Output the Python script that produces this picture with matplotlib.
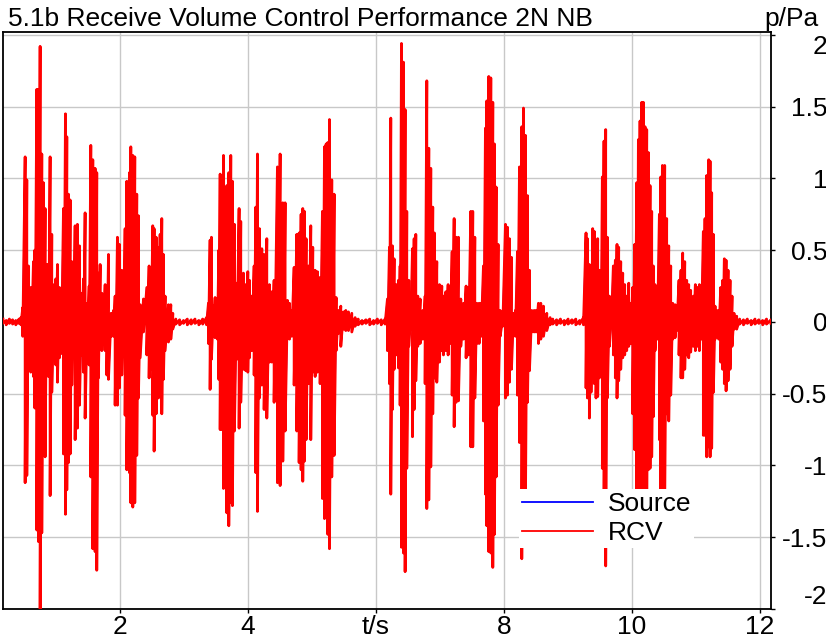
import numpy as np
import matplotlib
matplotlib.use("Agg")
import matplotlib.pyplot as plt

plt.rcParams['font.family'] = ['Liberation Sans', 'DejaVu Sans']

# peak envelope of the recorded speech (t in s, upper / lower peak in Pa)
burst1_t = [0.479, 0.516, 0.542, 0.568, 0.604, 0.646, 0.667, 0.698, 0.724, 0.750,
            0.776, 0.802, 0.828, 0.854, 0.880, 0.906, 0.932, 0.969, 0.995, 1.021,
            1.052, 1.083, 1.115, 1.146, 1.167, 1.193, 1.219, 1.245, 1.271, 1.297,
            1.333, 1.365, 1.401, 1.427, 1.453, 1.490, 1.516, 1.542, 1.573, 1.609,
            1.635, 1.661, 1.688, 1.714, 1.740, 1.766, 1.792, 1.818, 1.859, 1.896,
            1.922, 1.958, 1.990, 2.026, 2.052, 2.078, 2.104, 2.146, 2.167, 2.198,
            2.229, 2.260, 2.286, 2.313, 2.365, 2.417, 2.453, 2.479, 2.510, 2.531,
            2.563, 2.599, 2.625, 2.651, 2.677, 2.703, 2.755, 2.792, 2.823]
burst1_hi = [0.10, 1.15, 0.99, 0.39, 0.24, 0.42, 0.50, 1.62, 1.62, 1.92,
             1.17, 0.97, 0.79, 0.40, 0.40, 1.15, 0.61, 0.26, 0.30, 0.40,
             0.24, 0.22, 0.79, 1.45, 1.29, 0.89, 0.85, 0.42, 0.39, 0.67,
             0.68, 0.53, 0.20, 0.30, 0.76, 0.13, 0.25, 1.23, 1.13, 1.07,
             1.04, 0.34, 0.40, 0.20, 0.06, 0.26, 0.24, 0.47, 0.06, 0.08,
             0.18, 0.59, 0.54, 0.36, 0.17, 0.65, 0.98, 1.04, 1.22, 1.16,
             1.15, 0.89, 0.74, 0.12, 0.16, 0.24, 0.39, 0.36, 0.67, 0.65,
             0.59, 0.52, 0.61, 0.72, 0.47, 0.18, 0.12, 0.12, 0.06]
burst1_lo = [-0.10, -1.12, -1.07, -0.28, -0.35, -0.38, -0.60, -1.45, -1.53, -2.10,
             -1.47, -0.87, -0.94, -0.21, -0.38, -1.21, -0.49, -0.23, -0.30, -0.42,
             -0.25, -0.22, -0.92, -1.34, -1.17, -0.98, -0.92, -0.44, -0.20, -0.82,
             -0.74, -0.58, -0.23, -0.35, -0.67, -0.10, -0.30, -1.08, -1.58, -1.60,
             -1.73, -0.39, -0.17, -0.20, -0.07, -0.20, -0.37, -0.40, -0.10, -0.10,
             -0.58, -0.58, -0.46, -0.37, -0.23, -0.65, -1.03, -1.05, -1.26, -1.29,
             -1.26, -0.93, -0.53, -0.25, -0.07, -0.23, -0.39, -0.33, -0.65, -0.90,
             -0.64, -0.53, -0.48, -0.64, -0.40, -0.20, -0.14, -0.12, -0.05]

burst2_t = [3.380, 3.406, 3.427, 3.458, 3.484, 3.521, 3.542, 3.563, 3.589, 3.615,
            3.641, 3.667, 3.698, 3.729, 3.755, 3.786, 3.823, 3.859, 3.885, 3.927,
            3.964, 3.995, 4.021, 4.057, 4.094, 4.120, 4.146, 4.177, 4.214, 4.250,
            4.292, 4.333, 4.370, 4.406, 4.458, 4.500, 4.542, 4.578, 4.615, 4.646,
            4.682, 4.719, 4.760, 4.797, 4.828, 4.854, 4.880, 4.906, 4.943, 4.979,
            5.010, 5.047, 5.083, 5.125, 5.161, 5.193, 5.219, 5.245, 5.271, 5.307,
            5.344, 5.375, 5.411, 5.448, 5.490, 5.526, 5.568, 5.620, 5.672]
burst2_hi = [0.13, 0.57, 0.59, 0.11, 0.17, 0.16, 0.50, 1.03, 1.02, 1.16,
             0.88, 0.95, 1.04, 1.16, 0.98, 0.68, 0.27, 0.79, 0.70, 0.34,
             0.26, 0.35, 0.29, 0.18, 0.39, 0.80, 1.17, 0.65, 0.51, 0.47,
             0.58, 0.26, 0.21, 0.29, 1.08, 1.17, 0.83, 0.83, 0.15, 0.13,
             0.08, 0.38, 0.61, 0.62, 0.75, 0.79, 0.77, 0.58, 0.39, 0.67,
             0.52, 0.36, 0.35, 0.31, 0.77, 1.22, 1.24, 1.25, 1.41, 0.99,
             0.89, 0.17, 0.08, 0.11, 0.07, 0.08, 0.07, 0.06, 0.03]
burst2_lo = [-0.15, -0.47, -0.26, -0.10, -0.11, -0.12, -0.40, -0.75, -0.75, -1.16,
             -1.12, -1.33, -1.42, -1.26, -1.28, -0.76, -0.26, -0.74, -0.56, -0.33,
             -0.34, -0.35, -0.25, -0.20, -0.37, -1.05, -1.32, -0.53, -0.44, -0.61,
             -0.67, -0.28, -0.28, -0.56, -1.12, -1.14, -0.97, -0.76, -0.10, -0.12,
             -0.10, -0.44, -0.76, -0.98, -1.03, -1.11, -0.97, -0.82, -0.43, -0.82,
             -0.35, -0.38, -0.35, -0.43, -1.23, -1.37, -1.35, -1.48, -1.58, -1.08,
             -0.93, -0.20, -0.08, -0.17, -0.05, -0.06, -0.06, -0.07, -0.03]

burst3_t = [6.177, 6.208, 6.229, 6.255, 6.281, 6.313, 6.349, 6.375, 6.396, 6.427,
            6.453, 6.479, 6.510, 6.542, 6.568, 6.594, 6.620, 6.651, 6.688, 6.729,
            6.766, 6.792, 6.823, 6.854, 6.885, 6.911, 6.948, 6.990, 7.026, 7.052,
            7.089, 7.125, 7.156, 7.188, 7.219, 7.250, 7.286, 7.323, 7.365, 7.406,
            7.443, 7.479, 7.510, 7.542, 7.573, 7.609, 7.641, 7.677, 7.708, 7.729,
            7.760, 7.792, 7.823, 7.849, 7.875, 7.906, 7.938, 7.979, 8.021, 8.052,
            8.083, 8.115, 8.146, 8.177, 8.208, 8.240, 8.276, 8.302, 8.333, 8.365,
            8.396, 8.432, 8.469, 8.500, 8.536, 8.573, 8.615, 8.667, 8.719]
burst3_hi = [0.16, 0.52, 1.42, 0.53, 0.44, 0.26, 0.29, 0.39, 1.94, 1.81,
             1.48, 0.77, 0.29, 0.08, 0.51, 0.58, 0.61, 0.18, 0.16, 0.08,
             0.18, 1.68, 1.21, 1.07, 0.80, 0.62, 0.42, 0.26, 0.25, 0.18,
             0.21, 0.26, 0.24, 0.49, 0.72, 0.59, 0.59, 0.16, 0.13, 0.25,
             0.24, 0.77, 0.77, 0.59, 0.13, 0.13, 0.13, 0.39, 1.35, 1.54,
             1.71, 1.70, 1.53, 1.24, 0.94, 0.54, 0.08, 0.03, 0.68, 0.66,
             0.58, 0.45, 0.06, 0.08, 0.49, 1.08, 1.36, 1.49, 1.30, 0.88,
             0.36, 0.08, 0.08, 0.08, 0.13, 0.13, 0.11, 0.06, 0.03]
burst3_lo = [-0.20, -0.43, -1.20, -0.61, -0.33, -0.23, -0.32, -0.58, -1.57, -1.61,
             -1.74, -1.02, -0.17, -0.05, -0.80, -0.61, -0.41, -0.17, -0.15, -0.12,
             -0.43, -1.30, -1.24, -1.01, -0.64, -0.39, -0.42, -0.28, -0.20, -0.23,
             -0.20, -0.23, -0.15, -0.51, -0.73, -0.56, -0.55, -0.17, -0.12, -0.25,
             -0.23, -0.87, -0.87, -0.53, -0.15, -0.15, -0.10, -0.69, -1.20, -1.42,
             -1.60, -1.61, -1.71, -1.48, -1.08, -0.58, -0.10, -0.03, -0.53, -0.51,
             -0.42, -0.33, -0.07, -0.10, -0.51, -0.84, -1.65, -1.40, -1.30, -0.56,
             -0.34, -0.07, -0.07, -0.07, -0.15, -0.12, -0.10, -0.06, -0.02]

burst4_t = [9.280, 9.301, 9.332, 9.358, 9.384, 9.410, 9.436, 9.462, 9.488, 9.514,
            9.535, 9.561, 9.587, 9.613, 9.645, 9.676, 9.707, 9.738, 9.764, 9.790,
            9.822, 9.853, 9.884, 9.915, 9.947, 9.978, 10.009, 10.040, 10.072, 10.098,
            10.124, 10.150, 10.176, 10.202, 10.228, 10.254, 10.280, 10.306, 10.332, 10.358,
            10.394, 10.426, 10.447, 10.473, 10.509, 10.540, 10.572, 10.603, 10.634, 10.671,
            10.697, 10.733, 10.764, 10.790, 10.822, 10.853, 10.884, 10.915, 10.957, 10.988,
            11.020, 11.051, 11.082, 11.113, 11.139, 11.165, 11.197, 11.218, 11.243, 11.270,
            11.296, 11.322, 11.353, 11.384, 11.415, 11.441, 11.468, 11.499, 11.530, 11.561,
            11.593, 11.634]
burst4_hi = [0.62, 0.58, 0.40, 0.39, 0.65, 0.63, 0.34, 0.58, 0.36, 0.29,
             1.01, 1.26, 1.34, 0.59, 0.18, 0.03, 0.39, 0.43, 0.54, 0.52,
             0.42, 0.34, 0.26, 0.18, 0.27, 0.13, 0.24, 0.54, 0.97, 1.27,
             1.40, 1.53, 1.53, 1.36, 1.34, 1.18, 0.95, 0.77, 0.39, 0.26,
             0.13, 0.75, 1.01, 1.09, 1.09, 0.72, 0.53, 0.39, 0.13, 0.12,
             0.11, 0.29, 0.36, 0.48, 0.42, 0.29, 0.26, 0.22, 0.18, 0.26,
             0.24, 0.26, 0.18, 0.63, 0.72, 1.02, 1.13, 1.12, 0.90, 0.61,
             0.11, 0.08, 0.08, 0.24, 0.29, 0.44, 0.43, 0.36, 0.29, 0.18,
             0.06, 0.04]
burst4_lo = [-0.46, -0.53, -0.67, -0.49, -0.37, -0.43, -0.53, -0.52, -0.39, -0.29,
             -1.02, -1.45, -1.70, -0.53, -0.17, -0.02, -0.23, -0.39, -0.53, -0.41,
             -0.33, -0.25, -0.23, -0.20, -0.17, -0.15, -0.64, -0.89, -1.35, -1.45,
             -1.50, -1.50, -1.45, -1.35, -1.30, -1.03, -1.02, -0.94, -0.66, -0.20,
             -0.12, -0.82, -1.25, -1.30, -1.20, -0.64, -0.69, -0.51, -0.12, -0.11,
             -0.06, -0.23, -0.39, -0.39, -0.33, -0.23, -0.25, -0.21, -0.17, -0.20,
             -0.17, -0.20, -0.12, -0.79, -0.79, -0.94, -0.87, -0.94, -0.88, -0.49,
             -0.12, -0.10, -0.12, -0.28, -0.33, -0.43, -0.48, -0.41, -0.33, -0.17,
             -0.05, -0.05]

# background noise between the bursts
quiet_t = [0.17, 0.22, 0.27, 0.32, 0.37, 0.42, 0.45,
           2.87, 2.93, 2.99, 3.05, 3.11, 3.17, 3.23, 3.29, 3.35,
           5.72, 5.78, 5.84, 5.90, 5.96, 6.02, 6.08, 6.14,
           8.76, 8.82, 8.88, 8.94, 9.00, 9.06, 9.12, 9.18, 9.24,
           11.68, 11.74, 11.80, 11.86, 11.92, 11.98, 12.04, 12.10, 12.17]
quiet_hi = [0.02, 0.01, 0.02, 0.015, 0.01, 0.02, 0.03,
            0.02, 0.015, 0.01, 0.02, 0.015, 0.02, 0.01, 0.02, 0.03,
            0.02, 0.01, 0.015, 0.02, 0.01, 0.02, 0.015, 0.02,
            0.02, 0.015, 0.02, 0.01, 0.02, 0.015, 0.02, 0.01, 0.03,
            0.02, 0.015, 0.02, 0.01, 0.02, 0.015, 0.01, 0.02, 0.015]
quiet_lo = [-0.01, -0.02, -0.01, -0.015, -0.02, -0.01, -0.02,
            -0.015, -0.02, -0.01, -0.02, -0.015, -0.01, -0.02, -0.015, -0.02,
            -0.02, -0.015, -0.01, -0.02, -0.015, -0.01, -0.02, -0.015,
            -0.015, -0.02, -0.01, -0.02, -0.015, -0.01, -0.02, -0.015, -0.02,
            -0.015, -0.02, -0.01, -0.02, -0.015, -0.01, -0.02, -0.015, -0.01]

x_ticks = [2, 4, 6, 8, 10, 12]
x_ticklabels = ["2", "4", "t/s", "8", "10", "12"]
y_ticks = [2, 1.5, 1, 0.5, 0, -0.5, -1, -1.5, -2]
y_ticklabels = ["2", "1.5", "1", "0.5", "0", "-0.5", "-1", "-1.5", "-2"]

FS = 19


def waveform(ts, his, los):
    """zig-zag from upper to lower peak at every time step"""
    t = np.asarray(ts)
    order = np.argsort(t)
    hi = np.asarray(his)[order]
    lo = np.asarray(los)[order]
    x = np.repeat(t[order], 2)
    y = np.column_stack([hi, lo]).ravel()
    return x, y


rcv_t = burst1_t + burst2_t + burst3_t + burst4_t + quiet_t
rcv_hi = burst1_hi + burst2_hi + burst3_hi + burst4_hi + quiet_hi
rcv_lo = burst1_lo + burst2_lo + burst3_lo + burst4_lo + quiet_lo
# source is practically identical, it only peeks out from under RCV
src_t, src_hi, src_lo = list(rcv_t), list(rcv_hi), list(rcv_lo)

fig = plt.figure(figsize=(8.26, 6.42), dpi=100)
ax = fig.add_axes([3 / 826, 33 / 642, 768 / 826, 577 / 642])

sx, sy = waveform(src_t, src_hi, src_lo)
rx, ry = waveform(rcv_t, rcv_hi, rcv_lo)
ax.plot(sx, sy, color="#0000ff", lw=1.2, label="Source", zorder=2)
ax.plot(rx, ry, color="#ff0000", lw=2.0, label="RCV", zorder=3)

ax.set_xlim(0.17, 12.17)
ax.set_ylim(-1.99, 2.02)

ax.set_xticks(x_ticks)
ax.set_xticklabels(x_ticklabels)
ax.set_yticks(y_ticks)
ax.set_yticklabels(y_ticklabels)
ax.yaxis.tick_right()
ax.tick_params(axis="both", labelsize=FS, length=3, width=1, color="black")
ax.tick_params(axis="y", pad=37.5)
ax.tick_params(axis="x", pad=1)
for lab in ax.get_yticklabels():
    lab.set_horizontalalignment("right")
ylabs = ax.get_yticklabels()
ylabs[0].set_verticalalignment("top")
ylabs[-1].set_verticalalignment("bottom")

ax.grid(True, color="#c8c8c8", lw=1.0)
ax.set_axisbelow(True)
for sp in ax.spines.values():
    sp.set_linewidth(1.3)
    sp.set_color("black")

leg = ax.legend(loc="lower left", bbox_to_anchor=(0.672, 0.106), fontsize=FS,
                frameon=True, fancybox=False, framealpha=1, facecolor="white",
                edgecolor="none", borderaxespad=0, borderpad=0.1,
                handlelength=2.7, handletextpad=0.57, labelspacing=0.2)
leg.set_zorder(5)
for h in leg.get_lines():
    h.set_linewidth(1.3)

fig.text(8 / 826, 1 - 26 / 642, "5.1b Receive Volume Control Performance 2N NB",
         fontsize=FS, ha="left", va="baseline")
fig.text(819 / 826, 1 - 26 / 642, "p/Pa", fontsize=FS, ha="right", va="baseline")

fig.savefig("out.png", dpi=100)
